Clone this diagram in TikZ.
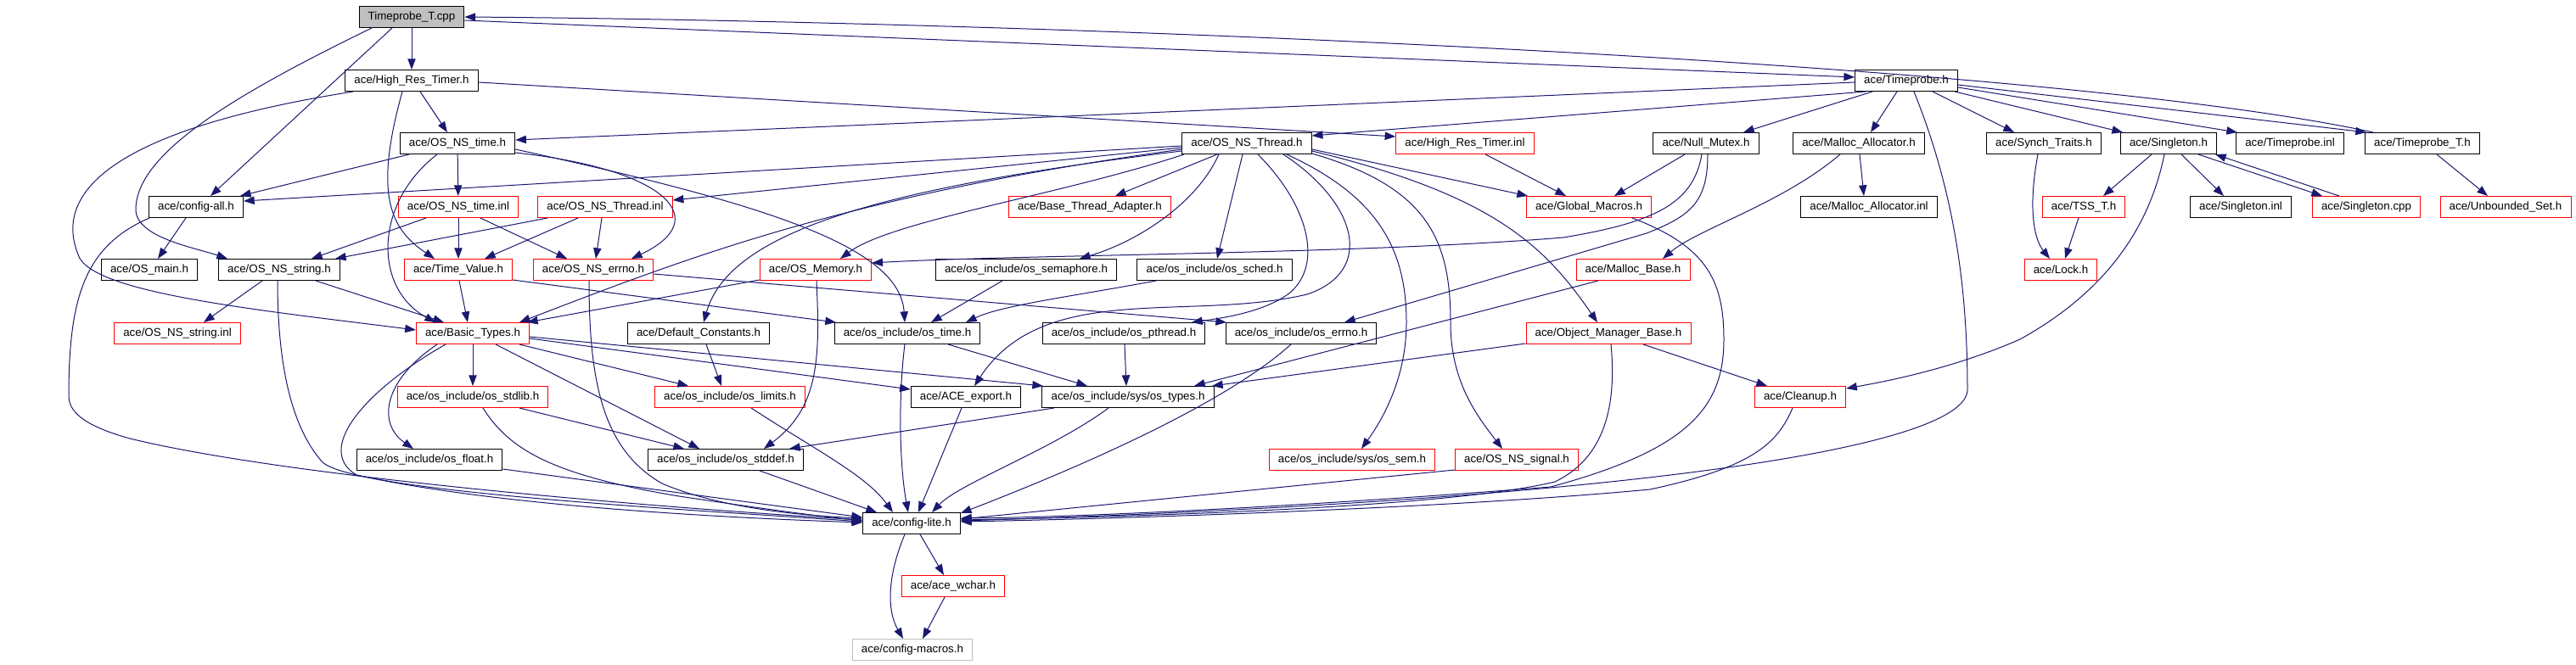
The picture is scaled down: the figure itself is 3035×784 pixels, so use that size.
\documentclass[tikz,border=0pt]{standalone}
\usepackage{fontspec}
\setmainfont{Liberation Sans}
\usetikzlibrary{arrows.meta,calc}
\definecolor{edgeblue}{HTML}{191970}
\definecolor{gray75}{HTML}{BFBFBF}
\begin{document}
\begin{tikzpicture}[x=0.75pt, y=-0.75pt,
      every node/.style = {shape=rectangle, draw, line width=0.75pt,
        minimum height=18.75pt, inner xsep=8pt, inner ysep=0pt,
        font=\fontsize{10}{12}\selectfont},
      dep/.style = {draw=edgeblue, line width=0.75pt,
        -{Triangle[length=9.5pt, width=7pt]}}]
  \useasboundingbox (0,0) rectangle (3035,784);
  \node (tcpp) [fill=gray75] at (485,20) {Timeprobe\_T.cpp};
  \node (hrt) at (485,95) {ace/High\_Res\_Timer.h};
  \node (tprobe) at (2246,95) {ace/Timeprobe.h};
  \node (nstime) at (539,169) {ace/OS\_NS\_time.h};
  \node (nsthread) at (1469,169) {ace/OS\_NS\_Thread.h};
  \node (hrtinl) [draw=red] at (1726,169) {ace/High\_Res\_Timer.inl};
  \node (nullmutex) at (2010,169) {ace/Null\_Mutex.h};
  \node (mallocalloc) at (2190,169) {ace/Malloc\_Allocator.h};
  \node (synch) at (2408,169) {ace/Synch\_Traits.h};
  \node (singleton) at (2555,169) {ace/Singleton.h};
  \node (tpinl) at (2698,169) {ace/Timeprobe.inl};
  \node (tth) at (2854,169) {ace/Timeprobe\_T.h};
  \node (cfgall) at (231,244) {ace/config-all.h};
  \node (nstimeinl) [draw=red] at (540,244) {ace/OS\_NS\_time.inl};
  \node (nsthreadinl) [draw=red] at (713,244) {ace/OS\_NS\_Thread.inl};
  \node (bta) [draw=red] at (1284,244) {ace/Base\_Thread\_Adapter.h};
  \node (globmac) [draw=red] at (1872,244) {ace/Global\_Macros.h};
  \node (mallocinl) at (2202,244) {ace/Malloc\_Allocator.inl};
  \node (tsst) [draw=red] at (2455,244) {ace/TSS\_T.h};
  \node (singinl) at (2640,244) {ace/Singleton.inl};
  \node (singcpp) [draw=red] at (2788,244) {ace/Singleton.cpp};
  \node (unbset) [draw=red] at (2952,244) {ace/Unbounded\_Set.h};
  \node (osmain) at (176,318) {ace/OS\_main.h};
  \node (nsstring) at (329,318) {ace/OS\_NS\_string.h};
  \node (timeval) [draw=red] at (540,318) {ace/Time\_Value.h};
  \node (nserrno) [draw=red] at (699,318) {ace/OS\_NS\_errno.h};
  \node (osmemory) [draw=red] at (961,318) {ace/OS\_Memory.h};
  \node (ossemaph) at (1209,318) {ace/os\_include/os\_semaphore.h};
  \node (ossched) at (1431,318) {ace/os\_include/os\_sched.h};
  \node (mallocbase) [draw=red] at (1924,318) {ace/Malloc\_Base.h};
  \node (lock) [draw=red] at (2428,318) {ace/Lock.h};
  \node (nsstringinl) [draw=red] at (209,393) {ace/OS\_NS\_string.inl};
  \node (basic) [draw=red] at (557,393) {ace/Basic\_Types.h};
  \node (defconst) at (823,393) {ace/Default\_Constants.h};
  \node (ostime) at (1069,393) {ace/os\_include/os\_time.h};
  \node (ospthread) at (1324,393) {ace/os\_include/os\_pthread.h};
  \node (oserrno) at (1533,393) {ace/os\_include/os\_errno.h};
  \node (omb) [draw=red] at (1895,393) {ace/Object\_Manager\_Base.h};
  \node (osstdlib) [draw=red] at (557,468) {ace/os\_include/os\_stdlib.h};
  \node (oslimits) [draw=red] at (860,468) {ace/os\_include/os\_limits.h};
  \node (aceexport) at (1138,468) {ace/ACE\_export.h};
  \node (ostypes) at (1329,468) {ace/os\_include/sys/os\_types.h};
  \node (cleanup) [draw=red] at (2121,468) {ace/Cleanup.h};
  \node (osfloat) at (506,542) {ace/os\_include/os\_float.h};
  \node (osstddef) at (855,542) {ace/os\_include/os\_stddef.h};
  \node (syssem) [draw=red] at (1593,542) {ace/os\_include/sys/os\_sem.h};
  \node (nssignal) [draw=red] at (1787,542) {ace/OS\_NS\_signal.h};
  \node (cfglite) at (1074,617) {ace/config-lite.h};
  \node (wchar) [draw=red] at (1123,691) {ace/ace\_wchar.h};
  \node (macros) [draw=gray75] at (1075,766) {ace/config-macros.h};

  \draw[dep] (tcpp) -- (hrt);
  \draw[dep] ($(tcpp.south)+(-23,0)$) -- ($(cfgall.north)+(17,0)$);
  \draw[dep] ($(tcpp.south)+(-47,0)$) .. controls (280,110) and (160,180) .. (160,247)
    .. controls (160,280) and (230,292) .. ($(nsstring.north)+(-61,0)$);
  \draw[dep] ($(tcpp.east)+(0,4)$) -- ($(tprobe.west)+(0,-4)$);
  \draw[dep] ($(tth.north)+(-58,0)$) .. controls (2400,70) and (1200,25) .. (tcpp.east);
  \draw[dep] ($(hrt.south)+(10,0)$) -- ($(nstime.north)+(-12,0)$);
  \draw[dep] ($(hrt.south)+(-11,0)$) .. controls (440,230) and (460,270) .. ($(timeval.north)+(-28,0)$);
  \draw[dep] ($(hrt.south)+(-69,0)$) .. controls (150,150) and (60,220) .. (92,300)
    .. controls (105,345) and (300,365) .. ($(basic.west)+(0,-4)$);
  \draw[dep] ($(hrt.east)+(0,2)$) -- ($(hrtinl.west)+(0,-8)$);
  \draw[dep] ($(tprobe.west)+(0,2)$) -- ($(nstime.east)+(0,-4)$);
  \draw[dep] ($(tprobe.south)+(-48,0)$) -- ($(nsthread.east)+(0,-9)$);
  \draw[dep] ($(tprobe.south)+(-40,0)$) -- ($(nullmutex.north)+(44,0)$);
  \draw[dep] ($(tprobe.south)+(-11,0)$) -- ($(mallocalloc.north)+(14,0)$);
  \draw[dep] ($(tprobe.south)+(31,0)$) -- ($(synch.north)+(-35,0)$);
  \draw[dep] ($(tprobe.south)+(57,0)$) -- ($(singleton.north)+(-54,0)$);
  \draw[dep] ($(tprobe.east)+(0,8)$) -- ($(tpinl.north)+(-62,0)$);
  \draw[dep] ($(tprobe.east)+(0,5)$) -- ($(tth.north)+(-66,0)$);
  \draw[dep] ($(tprobe.south)+(9,0)$) .. controls (2300,220) and (2318,330) .. (2318,460)
    .. controls (2315,530) and (1900,590) .. ($(cfglite.east)+(0,-3)$);
  \draw[dep] ($(nstime.south)+(-57,0)$) -- ($(cfgall.north)+(52,0)$);
  \draw[dep] (nstime) -- (nstimeinl);
  \draw[dep] ($(nstime.south)+(-24,0)$) .. controls (440,240) and (440,340) .. ($(basic.north)+(-44,0)$);
  \draw[dep] ($(nstime.east)+(0,11)$) .. controls (790,200) and (840,260) .. ($(nserrno.north)+(45,0)$);
  \draw[dep] ($(nstime.east)+(0,7)$) .. controls (900,240) and (1060,290) .. ($(ostime.north)+(-3,0)$);
  \draw[dep] ($(cfgall.south)+(-12,0)$) -- ($(osmain.north)+(10,0)$);
  \draw[dep] ($(cfgall.south)+(-55,0)$) .. controls (100,290) and (81,350) .. (81,467)
    .. controls (81,490) and (110,505) .. (153,517)
    .. controls (350,565) and (800,600) .. ($(cfglite.west)+(0,-4)$);
  \draw[dep] ($(nstimeinl.south)+(-38,0)$) -- ($(nsstring.north)+(38,0)$);
  \draw[dep] (nstimeinl) -- (timeval);
  \draw[dep] ($(nstimeinl.south)+(26,0)$) -- ($(nserrno.north)+(-31,0)$);
  \draw[dep] ($(nsthreadinl.south)+(-68,0)$) -- ($(nsstring.north)+(66,0)$);
  \draw[dep] ($(nsthreadinl.south)+(-32,0)$) -- ($(timeval.north)+(31,0)$);
  \draw[dep] ($(nsthreadinl.south)+(-4,0)$) -- ($(nserrno.north)+(3,0)$);
  \draw[dep] ($(nsstring.south)+(-20,0)$) -- ($(nsstringinl.north)+(31,0)$);
  \draw[dep] ($(nsstring.south)+(43,0)$) -- ($(basic.north)+(-34,0)$);
  \draw[dep] ($(nsstring.south)+(-2,0)$) .. controls (327,420) and (340,500) .. (380,545)
    .. controls (420,580) and (800,600) .. ($(cfglite.west)+(0,-2)$);
  \draw[dep] ($(timeval.south)+(1,0)$) -- ($(basic.north)+(-6,0)$);
  \draw[dep] ($(timeval.east)+(0,12)$) -- ($(ostime.north)+(-84,0)$);
  \draw[dep] ($(nserrno.east)+(0,5)$) -- ($(oserrno.north)+(-88,0)$);
  \draw[dep] ($(nserrno.south)+(-5,0)$) .. controls (694,450) and (710,530) .. (780,570)
    .. controls (850,600) and (950,608) .. ($(cfglite.west)+(0,-6)$);
  \draw[dep] ($(nsthread.west)+(0,3)$) -- ($(cfgall.east)+(0,-7)$);
  \draw[dep] ($(nsthread.west)+(0,5)$) -- ($(nsthreadinl.east)+(0,-8)$);
  \draw[dep] ($(nsthread.west)+(0,7)$) .. controls (1000,230) and (820,300) .. ($(basic.north)+(55,0)$);
  \draw[dep] ($(nsthread.west)+(0,9)$) .. controls (1050,220) and (860,270) .. ($(defconst.north)+(6,0)$);
  \draw[dep] ($(nsthread.south)+(-74,0)$) .. controls (1250,230) and (1050,260) .. ($(osmemory.north)+(29,0)$);
  \draw[dep] ($(nsthread.south)+(-35,0)$) -- ($(bta.north)+(30,0)$);
  \draw[dep] ($(nsthread.south)+(-33,0)$) .. controls (1410,240) and (1340,285) .. ($(ossemaph.north)+(63,0)$);
  \draw[dep] ($(nsthread.south)+(-5,0)$) -- ($(ossched.north)+(3,0)$);
  \draw[dep] ($(nsthread.south)+(13,0)$) .. controls (1540,240) and (1560,310) .. (1520,345)
    .. controls (1490,368) and (1440,375) .. ($(ospthread.north)+(80,0)$);
  \draw[dep] ($(nsthread.south)+(43,0)$) .. controls (1600,240) and (1620,320) .. (1540,347)
    .. controls (1400,380) and (1230,330) .. ($(aceexport.north)+(10,0)$);
  \draw[dep] ($(nsthread.south)+(47,0)$) .. controls (1620,230) and (1657,290) .. (1657,380)
    .. controls (1657,450) and (1625,500) .. ($(syssem.north)+(11,0)$);
  \draw[dep] ($(nsthread.east)+(0,12)$) .. controls (1680,220) and (1709,280) .. (1709,380)
    .. controls (1709,450) and (1740,490) .. ($(nssignal.north)+(-17,0)$);
  \draw[dep] ($(nsthread.east)+(0,7)$) -- ($(globmac.north)+(-72,0)$);
  \draw[dep] ($(nsthread.east)+(0,9)$) .. controls (1760,230) and (1820,290) .. ($(omb.north)+(-13,0)$);
  \draw[dep] ($(osmemory.west)+(0,12)$) -- ($(basic.north)+(64,0)$);
  \draw[dep] ($(osmemory.south)+(1,0)$) .. controls (966,420) and (966,480) .. ($(osstddef.north)+(45,0)$);
  \draw[dep] ($(nullmutex.south)+(-5,0)$) .. controls (1995,240) and (1950,262) .. (1842,280)
    .. controls (1600,300) and (1200,300) .. ($(osmemory.east)+(0,-8)$);
  \draw[dep] ($(nullmutex.south)+(-25,0)$) -- ($(globmac.north)+(30,0)$);
  \draw[dep] ($(nullmutex.south)+(2,0)$) .. controls (2012,240) and (1990,255) .. (1940,275)
    -- ($(oserrno.north)+(51,0)$);
  \draw[dep] ($(hrtinl.south)+(24,0)$) -- ($(globmac.north)+(-27,0)$);
  \draw[dep] ($(globmac.south)+(51,0)$) .. controls (2010,290) and (2031,330) .. (2031,400)
    .. controls (2031,480) and (1990,530) .. (1827,574)
    .. controls (1500,600) and (1250,610) .. ($(cfglite.east)+(0,-6)$);
  \draw[dep] ($(mallocalloc.south)+(1,0)$) -- ($(mallocinl.north)+(-6,0)$);
  \draw[dep] ($(mallocalloc.south)+(-22,0)$) .. controls (2100,240) and (2000,270) .. ($(mallocbase.north)+(35,0)$);
  \draw[dep] ($(mallocbase.south)+(-41,0)$) -- ($(ostypes.north)+(78,0)$);
  \draw[dep] ($(omb.west)+(0,12)$) -- ($(ostypes.north)+(99,0)$);
  \draw[dep] ($(omb.south)+(41,0)$) -- ($(cleanup.north)+(-39,0)$);
  \draw[dep] ($(omb.south)+(3,0)$) .. controls (1905,480) and (1890,540) .. (1832,568)
    .. controls (1700,600) and (1300,610) .. ($(cfglite.east)+(0,-4)$);
  \draw[dep] ($(cleanup.south)+(-9,0)$) .. controls (2095,520) and (2070,550) .. (1944,577)
    .. controls (1700,600) and (1300,612) .. ($(cfglite.east)+(0,-2)$);
  \draw[dep] ($(singleton.south)+(-5,0)$) .. controls (2530,280) and (2470,350) .. (2380,400)
    .. controls (2300,435) and (2220,450) .. ($(cleanup.east)+(0,-10)$);
  \draw[dep] ($(singleton.south)+(-20,0)$) -- ($(tsst.north)+(23,0)$);
  \draw[dep] ($(singleton.south)+(15,0)$) -- ($(singinl.north)+(-20,0)$);
  \draw[dep] ($(singleton.south)+(35,0)$) -- ($(singcpp.north)+(-52,0)$);
  \draw[dep] ($(singcpp.north)+(-32,0)$) -- ($(singleton.south)+(55,0)$);
  \draw[dep] ($(tsst.south)+(-6,0)$) -- ($(lock.north)+(5,0)$);
  \draw[dep] ($(synch.south)+(-7,0)$) .. controls (2390,240) and (2395,280) .. ($(lock.north)+(-13,0)$);
  \draw[dep] ($(tth.south)+(17,0)$) -- ($(unbset.north)+(-21,0)$);
  \draw[dep] ($(nssignal.west)+(0,12)$) -- ($(cfglite.east)+(0,-5)$);
  \draw[dep] ($(oserrno.south)+(-12,0)$) .. controls (1450,470) and (1300,540) .. ($(cfglite.east)+(0,-12)$);
  \draw[dep] ($(ospthread.south)+(1,0)$) -- ($(ostypes.north)+(-2,0)$);
  \draw[dep] ($(ostime.south)+(-3,0)$) .. controls (1058,470) and (1060,550) .. ($(cfglite.north)+(-4,0)$);
  \draw[dep] ($(ostime.south)+(48,0)$) -- ($(ostypes.north)+(-48,0)$);
  \draw[dep] ($(aceexport.south)+(-5,0)$) -- ($(cfglite.north)+(8,0)$);
  \draw[dep] ($(defconst.south)+(9,0)$) -- ($(oslimits.north)+(-10,0)$);
  \draw[dep] ($(oslimits.south)+(25,0)$) .. controls (960,530) and (1020,560) .. ($(cfglite.north)+(-22,0)$);
  \draw[dep] ($(osstddef.south)+(40,0)$) -- ($(cfglite.north)+(-41,0)$);
  \draw[dep] ($(ostypes.south)+(-87,0)$) -- ($(osstddef.north)+(75,0)$);
  \draw[dep] ($(ostypes.south)+(-23,0)$) .. controls (1240,530) and (1130,570) .. ($(cfglite.north)+(24,0)$);
  \draw[dep] ($(cfglite.south)+(10,0)$) -- ($(wchar.north)+(-11,0)$);
  \draw[dep] ($(cfglite.south)+(-8,0)$) .. controls (1045,680) and (1045,720) .. ($(macros.north)+(-11,0)$);
  \draw[dep] ($(wchar.south)+(-10,0)$) -- ($(macros.north)+(12,0)$);
  \draw[dep] (basic) -- (osstdlib);
  \draw[dep] ($(basic.south)+(-42,0)$) .. controls (450,450) and (445,500) .. ($(osfloat.north)+(-19,0)$);
  \draw[dep] ($(basic.south)+(-32,0)$) .. controls (430,460) and (370,530) .. (420,560)
    .. controls (600,600) and (900,612) .. ($(cfglite.west)+(0,-1)$);
  \draw[dep] ($(basic.south)+(27,0)$) -- ($(osstddef.north)+(-31,0)$);
  \draw[dep] ($(basic.south)+(55,0)$) -- ($(oslimits.north)+(-49,0)$);
  \draw[dep] ($(basic.east)+(0,6)$) -- ($(aceexport.west)+(0,-9)$);
  \draw[dep] ($(basic.east)+(0,4)$) -- ($(ostypes.north)+(-100,0)$);
  \draw[dep] ($(osstdlib.south)+(55,0)$) -- ($(osstddef.north)+(-49,0)$);
  \draw[dep] ($(osstdlib.south)+(12,0)$) .. controls (600,530) and (650,560) .. (800,585)
    .. controls (900,600) and (960,608) .. ($(cfglite.west)+(0,-3)$);
  \draw[dep] ($(osfloat.east)+(0,11)$) -- ($(cfglite.west)+(0,-7)$);
  \draw[dep] ($(ossemaph.south)+(-28,0)$) -- ($(ostime.north)+(28,0)$);
  \draw[dep] ($(ossched.south)+(-69,0)$) .. controls (1260,350) and (1180,360) .. ($(ostime.north)+(69,0)$);
\end{tikzpicture}
\end{document}
